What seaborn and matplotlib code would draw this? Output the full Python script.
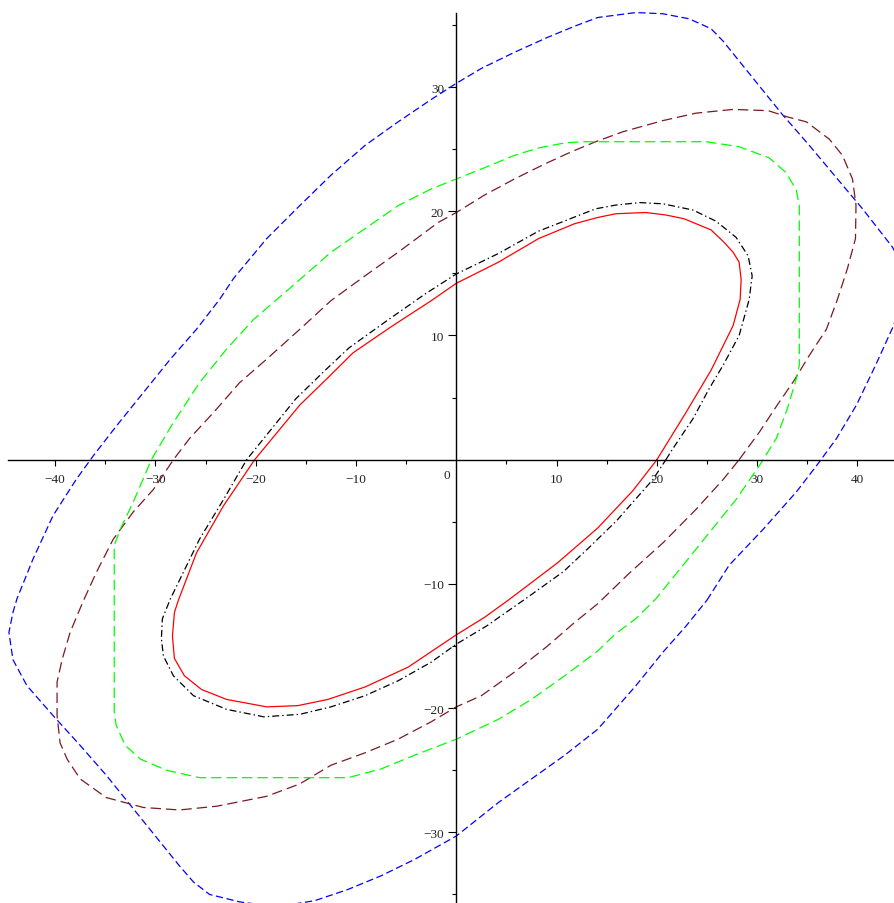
import numpy as np
import pandas as pd
import matplotlib
matplotlib.use("Agg")
import matplotlib.pyplot as plt
import seaborn as sns
from matplotlib.ticker import FixedLocator

# Closed level curves, listed counterclockwise
red_x = [20.0, 22.9, 25.4, 27.6, 28.3, 28.4, 28.2, 27.6, 26.7, 25.4, 22.7, 20.9, 18.9, 15.9,
         14.1, 11.8, 8.2, 4.2, 0.0, -2.5, -6.5, -10.3, -12.8, -15.6, -20.1, -23.2, -25.9,
         -27.7, -28.1, -28.3, -28.1, -27.1, -25.4, -22.9, -18.9, -15.8, -12.8, -9.1, -4.8,
         0.0, 2.8, 5.2, 10.1, 14.1, 17.6]
red_y = [0.0, 3.8, 7.2, 10.8, 12.9, 14.5, 15.9, 16.7, 17.5, 18.5, 19.4, 19.7, 19.9, 19.8,
         19.5, 19.0, 17.8, 15.9, 14.2, 12.8, 10.7, 8.6, 6.6, 4.4, 0.0, -3.7, -7.5,
         -11.3, -12.3, -14.2, -16.0, -17.4, -18.5, -19.3, -19.9, -19.8, -19.3, -18.3, -16.7,
         -14.1, -12.7, -11.3, -8.3, -5.5, -2.5]

black_x = [20.9, 21.6, 23.6, 25.2, 26.6, 28.2, 29.2, 29.5, 29.1, 27.9, 25.9, 23.6, 20.6,
           18.3, 15.9, 13.9, 8.2, 4.2, 0.0, -3.0, -6.9, -10.7, -13.2, -16.0, -20.9, -23.2,
           -25.6, -28.5, -29.3, -29.4, -29.2, -28.2, -26.2, -22.9, -19.2, -15.6, -12.5,
           -9.1, -5.8, -2.5, 0.0, 3.0, 6.9, 10.7, 13.2, 16.0, 17.3, 19.6]
black_y = [0.0, 0.9, 3.3, 5.7, 7.6, 10.0, 12.9, 14.8, 16.4, 17.9, 19.2, 20.1, 20.6,
           20.7, 20.5, 20.2, 18.4, 16.6, 14.95, 13.4, 11.2, 9.0, 7.1, 4.9, 0.0, -3.2,
           -6.4, -11.2, -12.8, -14.4, -15.8, -17.4, -19.0, -20.1, -20.7, -20.5, -19.9,
           -19.0, -17.8, -16.3, -14.85, -13.4, -11.2, -9.0, -7.1, -4.9, -3.7, -1.6]

green_x = [24.9, 28.2, 31.2, 32.9, 33.9, 34.2, 34.2, 33.9, 33.0, 31.9, 30.2, 27.9, 25.2,
           22.6, 19.9, 17.9, 15.9, 14.1, 10.8, 7.5, 4.2, 0.0, -4.2, -7.5, -10.8, -23.9,
           -25.6, -28.9, -31.5, -33.0, -33.9, -34.1, -34.1, -33.5, -32.2, -30.4, -28.2,
           -25.6, -22.9, -20.2, -17.6, -15.6, -12.5, -9.1, -5.8, -2.5, 0.0, 2.8, 5.8,
           8.2, 10.8, 12.5]
green_y = [25.6, 25.2, 24.3, 23.1, 21.7, 20.45, 7.6, 6.5, 4.1, 1.7, -0.5, -3.2, -5.9,
           -8.5, -11.2, -12.8, -14.0, -15.4, -17.4, -19.3, -20.9, -22.5, -23.8, -24.9,
           -25.6, -25.6, -25.6, -25.0, -24.1, -23.0, -21.4, -20.4, -6.9, -5.6, -3.4, 0.0,
           3.0, 6.2, 8.9, 11.3, 13.1, 14.5, 16.7, 18.6, 20.45, 21.8, 22.6, 23.5, 24.5,
           25.1, 25.5, 25.6]

maroon_x = [28.2, 30.2, 32.0, 33.7, 35.2, 36.9, 38.0, 39.0, 39.8, 39.85, 39.5, 38.5, 37.2,
            34.9, 33.0, 31.1, 27.6, 23.9, 20.6, 16.6, 13.9, 11.5, 8.8, 5.8, 2.8, 0.0,
            -1.8, -5.8, -9.1, -12.5, -15.6, -18.9, -21.6, -24.2, -26.6, -28.2, -30.2,
            -32.2, -34.2, -35.9, -37.2, -38.5, -39.3, -39.8, -39.8, -39.5, -38.8, -37.5,
            -34.9, -31.2, -27.6, -23.9, -18.9, -15.6, -12.5, -9.1, -5.8, -2.5, 0.0, 2.5,
            5.8, 9.1, 11.8, 14.1, 17.3, 20.6, 23.9, 26.6]
maroon_y = [0.0, 2.2, 4.4, 6.4, 8.4, 10.5, 12.9, 15.4, 17.8, 20.5, 22.6, 24.5, 25.8,
            27.2, 27.6, 28.1, 28.2, 27.9, 27.3, 26.4, 25.6, 24.8, 23.8, 22.6, 21.3, 19.9,
            19.1, 16.7, 14.8, 12.8, 10.5, 8.1, 6.2, 3.8, 1.7, 0.0, -2.4,
            -4.2, -6.4, -9.1, -11.4, -13.9, -16.1, -17.9, -20.6, -22.8, -24.1, -25.7,
            -27.2, -28.0, -28.2, -27.9, -27.1, -26.1, -24.6, -23.6, -22.5, -21.1, -19.9, -19.0,
            -17.1, -15.0, -13.1, -11.6, -9.1, -6.7, -4.0, -1.6]

blue_x = [25.0, 27.2, 30.6, 33.9, 35.9, 37.9, 39.9, 41.8, 43.6, 44.2, 44.6, 44.2, 43.5,
          40.5, 37.9, 35.2, 32.5, 29.9, 27.9, 26.6, 25.4, 23.2, 20.6, 17.9, 14.1, 11.8,
          9.1, 5.8, 2.5, 0.0, -2.5, -5.8, -9.1, -12.5, -15.8, -18.9, -22.2, -23.6, -25.9,
          -28.5, -31.2, -33.9, -36.2, -37.9, -40.2, -42.2, -43.8, -44.2, -44.6, -44.2,
          -42.8, -40.2, -37.5, -34.9, -32.2, -29.5, -27.6, -26.2, -24.6, -21.6, -17.9,
          -14.1, -10.8, -7.5, -4.2, 0.0, 4.2, 7.5, 10.8, 14.1, 15.3, 17.9, 20.6, 22.9]
blue_y = [-11.3, -8.5, -5.6, -2.6, -0.5, 1.7, 4.4, 7.6, 10.8, 12.3, 13.9, 16.0, 17.1,
          20.2, 22.7, 25.3, 27.8, 30.4, 32.4, 33.7, 34.7, 35.5, 35.9, 36.0, 35.6, 34.9,
          34.0, 32.8, 31.5, 30.3, 29.0, 27.2, 25.3, 22.9, 20.3, 17.8, 14.6, 12.9, 10.5,
          8.1, 5.4, 2.7, 0.3, -1.6, -4.5, -8.0, -11.2, -12.3, -13.9, -16.1,
          -18.2, -20.6, -23.0, -25.4, -28.1, -30.8, -32.7, -34.0, -35.0, -35.6, -36.0,
          -35.5, -34.6, -33.5, -32.2, -30.3, -27.6, -25.7, -23.8, -21.7, -20.6, -18.2, -15.5, -13.4]

x_major = [-40, -30, -20, -10, 10, 20, 30, 40]
x_minor = [-35, -25, -15, -5, 5, 15, 25, 35]
y_major = [-30, -20, -10, 10, 20, 30]
y_minor = [-35, -25, -15, -5, 5, 15, 25, 35]


def closed(xs, ys, name):
    xs = list(xs) + [xs[0]]
    ys = list(ys) + [ys[0]]
    return pd.DataFrame({"x": xs, "y": ys, "order": range(len(xs)), "curve": name})


sns.set_style("white")
plt.rcParams["font.family"] = ["Liberation Serif", "DejaVu Serif"]
plt.rcParams["lines.scale_dashes"] = False

fig = plt.figure(figsize=(8.94, 9.04), dpi=100)
ax = fig.add_axes([0, 0, 1, 1])

curves = [
    (blue_x, blue_y, "blue", "#0000ff", (0, (5.2, 2.6))),
    (maroon_x, maroon_y, "maroon", "#7a1a22", (0, (7.5, 3.6))),
    (green_x, green_y, "green", "#00ff00", (0, (7.5, 3.6))),
    (black_x, black_y, "black", "#000000", (0, (5.0, 2.2, 1.0, 2.2))),
    (red_x, red_y, "red", "#ff0000", "-"),
]
for xs, ys, name, color, ls in curves:
    df = closed(xs, ys, name)
    sns.lineplot(data=df, x="x", y="y", sort=False, estimator=None, color=color,
                 linewidth=0.9, ax=ax)
    ax.lines[-1].set_linestyle(ls)

ax.set_xlim(-45.49, 43.64)
ax.set_ylim(-35.69, 37.09)
ax.set_xlabel("")
ax.set_ylabel("")

# Axes cross at the origin
for side in ("top", "right"):
    ax.spines[side].set_visible(False)
ax.spines["bottom"].set_position(("data", 0))
ax.spines["left"].set_position(("data", 0))
ax.spines["bottom"].set_bounds(-44.7, 43.64)
ax.spines["left"].set_bounds(-35.69, 36.0)
for side in ("bottom", "left"):
    ax.spines[side].set_color("black")
    ax.spines[side].set_linewidth(1.0)

ax.xaxis.set_major_locator(FixedLocator(x_major))
ax.xaxis.set_minor_locator(FixedLocator(x_minor))
ax.yaxis.set_major_locator(FixedLocator(y_major))
ax.yaxis.set_minor_locator(FixedLocator(y_minor))
ax.set_xticklabels([f"\u2212{-v}" if v < 0 else str(v) for v in x_major])
ax.set_yticklabels([f"\u2212{-v}" if v < 0 else str(v) for v in y_major])

ax.tick_params(axis="both", which="both", bottom=True, left=True, top=False, right=False)
ax.tick_params(axis="x", which="major", direction="out", length=4.6, width=0.8,
               pad=5, labelsize=9.5, colors="black")
ax.tick_params(axis="x", which="minor", direction="out", length=3.0, width=0.8,
               colors="black")
ax.tick_params(axis="y", which="major", direction="out", length=5.8, width=0.8,
               pad=3, labelsize=9.5, colors="black")
ax.tick_params(axis="y", which="minor", direction="out", length=3.0, width=0.8,
               colors="black")
for lab in ax.get_xticklabels() + ax.get_yticklabels():
    lab.set_color("#222222")

ax.text(-0.93, -1.23, "0", ha="center", va="center", fontsize=9.5, color="#222222")

fig.savefig("out.png", dpi=100)
